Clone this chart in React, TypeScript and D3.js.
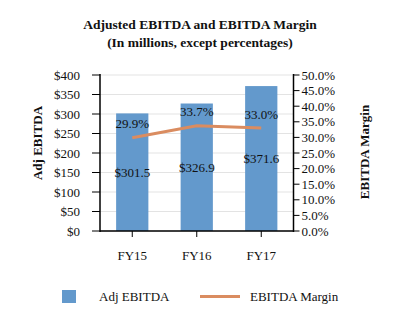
import React from "react";
import * as d3 from "d3";

const categories = ["FY15", "FY16", "FY17"];
const adjEbitda = [301.5, 326.9, 371.6];
const ebitdaMargin = [29.9, 33.7, 33.0];
const leftTicks = [0, 50, 100, 150, 200, 250, 300, 350, 400];
const rightTicks = [0, 5, 10, 15, 20, 25, 30, 35, 40, 45, 50];
const titleLines = ["Adjusted EBITDA and EBITDA Margin", "(In millions, except percentages)"];

const W = 400;
const H = 333;
const left = 100;
const right = 293.5;
const top = 75;
const bottom = 231;
const barColor = "#6399CC";
const lineColor = "#DA8C60";
const font = "'Liberation Serif', 'Times New Roman', serif";

export default function App() {
  const x = d3.scaleBand<string>().domain(categories).range([left, right]).paddingInner(0.5).paddingOuter(0.25);
  const yL = d3.scaleLinear().domain([0, 400]).range([bottom, top]);
  const yR = d3.scaleLinear().domain([0, 50]).range([bottom, top]);
  const cx = (c: string) => (x(c) as number) + x.bandwidth() / 2;
  const line = d3
    .line<number>()
    .x((_, i) => cx(categories[i]))
    .y((d) => yR(d));

  return (
    <svg
      width={W}
      height={H}
      style={{ position: "absolute", left: 0, top: 0, background: "#fff" }}
      fontFamily={font}
    >
      {titleLines.map((t, i) => (
        <text key={t} x={200} y={29 + i * 18} textAnchor="middle" fontWeight="bold" fontSize={13.5} fill="#111">
          {t}
        </text>
      ))}
      {leftTicks.map((t) => (
        <line key={"g" + t} x1={left} x2={right} y1={yL(t)} y2={yL(t)} stroke="#E3E3E3" strokeWidth={1} />
      ))}
      {categories.map((c, i) => (
        <rect
          key={c}
          x={x(c)}
          y={yL(adjEbitda[i])}
          width={x.bandwidth()}
          height={bottom - yL(adjEbitda[i])}
          fill={barColor}
        />
      ))}
      <path d={line(ebitdaMargin) as string} fill="none" stroke={lineColor} strokeWidth={3} />
      {categories.map((c, i) => (
        <text key={"v" + c} x={cx(c)} y={yL(adjEbitda[i] / 2) + 4.5} textAnchor="middle" fontSize={13} fill="#111">
          {"$" + adjEbitda[i].toFixed(1)}
        </text>
      ))}
      {categories.map((c, i) => (
        <text key={"p" + c} x={cx(c)} y={yR(ebitdaMargin[i]) - 9.5} textAnchor="middle" fontSize={13} fill="#111">
          {ebitdaMargin[i].toFixed(1) + "%"}
        </text>
      ))}
      {/* axes */}
      <line x1={left} x2={left} y1={top - 1} y2={bottom + 1} stroke="#000" strokeWidth={1.5} />
      <line x1={right} x2={right} y1={top - 1} y2={bottom + 1} stroke="#000" strokeWidth={1.5} />
      <line x1={left} x2={right} y1={bottom} y2={bottom} stroke="#000" strokeWidth={1.5} />
      {leftTicks.map((t) => (
        <g key={"lt" + t}>
          <line x1={left - 8} x2={left} y1={yL(t)} y2={yL(t)} stroke="#000" strokeWidth={1} />
          <text x={80} y={yL(t) + 4.5} textAnchor="end" fontSize={13} fill="#111">
            {"$" + t}
          </text>
        </g>
      ))}
      {rightTicks.map((t) => (
        <g key={"rt" + t}>
          <line x1={right} x2={right + 6} y1={yR(t)} y2={yR(t)} stroke="#000" strokeWidth={1} />
          <text x={301.5} y={yR(t) + 4.5} textAnchor="start" fontSize={13} fill="#111">
            {t.toFixed(1) + "%"}
          </text>
        </g>
      ))}
      {categories.map((c) => (
        <g key={"xt" + c}>
          <line x1={cx(c)} x2={cx(c)} y1={bottom} y2={bottom + 6} stroke="#000" strokeWidth={1} />
          <text x={cx(c)} y={259.5} textAnchor="middle" fontSize={13} fill="#111">
            {c}
          </text>
        </g>
      ))}
      <text
        transform={`translate(42,143) rotate(-90)`}
        textAnchor="middle"
        fontWeight="bold"
        fontSize={13}
        fill="#111"
      >
        Adj EBITDA
      </text>
      <text
        transform={`translate(368.5,152) rotate(-90)`}
        textAnchor="middle"
        fontWeight="bold"
        fontSize={13}
        fill="#111"
      >
        EBITDA Margin
      </text>
      {/* legend */}
      <rect x={62} y={290} width={14} height={13} fill={barColor} />
      <text x={99} y={301} fontSize={13} fill="#111">
        Adj EBITDA
      </text>
      <line x1={200} x2={240} y1={296.5} y2={296.5} stroke={lineColor} strokeWidth={3} />
      <text x={250} y={301} fontSize={13} fill="#111">
        EBITDA Margin
      </text>
    </svg>
  );
}
